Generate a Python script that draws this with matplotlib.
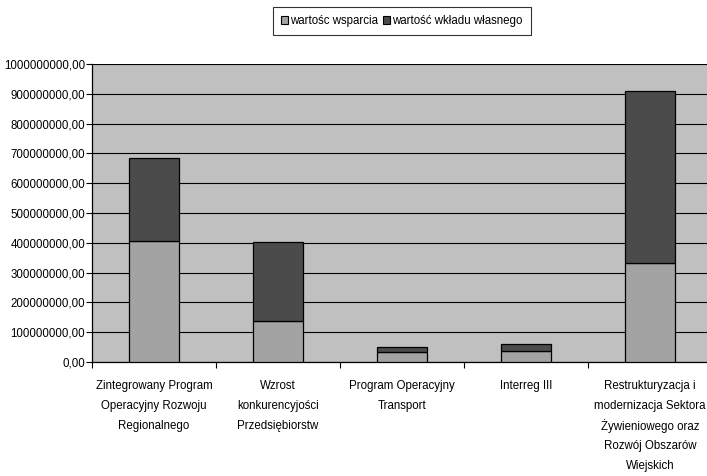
import matplotlib
matplotlib.use("Agg")
import matplotlib.pyplot as plt
from matplotlib.patches import Patch
from matplotlib.ticker import FixedLocator, FuncFormatter
from matplotlib import font_manager
import numpy as np

categories = [
    "Zintegrowany Program\nOperacyjny Rozwoju\nRegionalnego",
    "Wzrost\nkonkurencyjości\nPrzedsiębiorstw",
    "Program Operacyjny\nTransport",
    "Interreg III",
    "Restrukturyzacja i\nmodernizacja Sektora\nŻywieniowego oraz\nRozwój Obszarów\nWiejskich",
]
series_names = ["wartośc wsparcia", "wartość wkładu własnego"]
wsparcie = [406e6, 138e6, 33e6, 36e6, 332e6]
wklad = [279e6, 265e6, 17e6, 24e6, 579e6]
yticks = [i * 100000000 for i in range(11)]

names = {f.name for f in font_manager.fontManager.ttflist}
if "Liberation Sans Narrow" in names:
    plt.rcParams['font.family'] = ['Liberation Sans Narrow', 'DejaVu Sans']
    fs = 10
else:
    plt.rcParams['font.family'] = ['Liberation Sans', 'DejaVu Sans']
    fs = 8.3

fig = plt.figure(figsize=(7.07, 4.76), dpi=100)
W, H = 707, 476
left, right, top, bottom = 92, 712, 64, 362
ax = fig.add_axes([left / W, 1 - bottom / H, (right - left) / W, (bottom - top) / H])
ax.set_facecolor("#c0c0c0")

x = np.arange(len(categories))
c1, c2 = "#a3a3a3", "#4b4b4b"
ax.bar(x, wsparcie, width=0.405, color=c1, edgecolor="black", linewidth=0.9, zorder=3)
ax.bar(x, wklad, width=0.405, bottom=wsparcie, color=c2, edgecolor="black", linewidth=0.9, zorder=3)

ax.set_xlim(-0.5, len(categories) - 0.5)
ax.set_ylim(0, 1e9)
ax.set_yticks(yticks)
ax.yaxis.set_major_formatter(FuncFormatter(lambda v, p: f"{v:.2f}".replace(".", ",")))
ax.grid(axis="y", color="black", linewidth=0.8, zorder=1)
ax.set_axisbelow(True)
ax.tick_params(axis="y", direction="out", length=4, width=0.8, labelsize=fs, pad=1)

ax.set_xticks(x)
ax.set_xticklabels([""] * len(categories))
ax.tick_params(axis="x", which="major", length=0)
ax.xaxis.set_minor_locator(FixedLocator(np.arange(-0.5, len(categories), 1.0)))
ax.tick_params(axis="x", which="minor", direction="out", length=4, width=0.8)

# category labels, one line at a time with fixed spacing
trans = ax.get_xaxis_transform()
first_line_px = 386
line_step_px = 20
plot_h = bottom - top
for xi, label in zip(x, categories):
    for j, line in enumerate(label.split("\n")):
        ypx = first_line_px + j * line_step_px
        yfrac = (bottom - ypx) / plot_h
        ax.text(xi, yfrac, line, transform=trans, ha="center", va="center",
                fontsize=fs, clip_on=False)

for s in ["top", "right"]:
    ax.spines[s].set_visible(False)
ax.spines["left"].set_linewidth(0.9)
ax.spines["bottom"].set_linewidth(0.9)

handles = [Patch(facecolor=c1, edgecolor="black", linewidth=0.8),
           Patch(facecolor=c2, edgecolor="black", linewidth=0.8)]
leg = fig.legend(handles, series_names, loc="center", bbox_to_anchor=(402 / W, 1 - 21 / H),
                 ncol=2, fontsize=fs, frameon=True, fancybox=False, edgecolor="black",
                 handlelength=0.6, handleheight=0.6, handletextpad=0.2, columnspacing=0.4,
                 borderpad=0.72, borderaxespad=0)
leg.get_frame().set_linewidth(0.8)

fig.savefig("out.png", dpi=100)
